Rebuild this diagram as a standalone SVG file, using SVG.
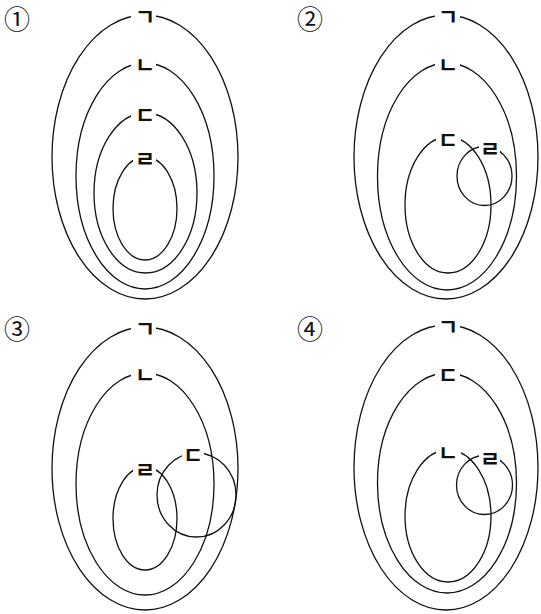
<svg xmlns="http://www.w3.org/2000/svg" width="541" height="614" viewBox="0 0 541 614">
<style>
.e{fill:none;stroke:#111;stroke-width:1.3}
.bg{fill:#fff;stroke:none}
.l{font-family:"Noto Sans CJK KR","Noto Sans",sans-serif;font-size:22px;font-weight:bold;fill:#111;text-anchor:middle;dominant-baseline:central}
.n{font-family:"Noto Sans CJK KR","DejaVu Serif",serif;font-size:26px;fill:#111;text-anchor:middle;dominant-baseline:central}
</style>
<rect width="541" height="614" fill="#fff"/>
<g id="panel1">
<text class="n" x="17" y="17">①</text>
<g id="p1-g"><ellipse class="e" cx="145" cy="157" rx="93" ry="142"/><rect class="bg" x="131" y="8" width="25" height="14"/><text class="l" x="145" y="15">ㄱ</text></g>
<g id="p1-n"><ellipse class="e" cx="145" cy="176" rx="69" ry="113"/><rect class="bg" x="131" y="56" width="25" height="14"/><text class="l" x="145" y="63">ㄴ</text></g>
<g id="p1-d"><ellipse class="e" cx="145.5" cy="193" rx="51.5" ry="80"/><rect class="bg" x="131" y="106" width="25" height="14"/><text class="l" x="145" y="113">ㄷ</text></g>
<g id="p1-r"><ellipse class="e" cx="145" cy="208.5" rx="32" ry="51.5"/><rect class="bg" x="133" y="150" width="23" height="14"/><text class="l" x="145" y="157">ㄹ</text></g>
</g>
<g id="panel2">
<text class="n" x="310" y="17">②</text>
<g id="p2-g"><ellipse class="e" cx="446" cy="157" rx="92" ry="142"/><rect class="bg" x="435" y="8" width="25" height="14"/><text class="l" x="448" y="15">ㄱ</text></g>
<g id="p2-n"><ellipse class="e" cx="447" cy="176.5" rx="69.5" ry="113.5"/><rect class="bg" x="435" y="56" width="25" height="14"/><text class="l" x="448" y="63">ㄴ</text></g>
<g id="p2-d"><ellipse class="e" cx="448" cy="205" rx="43" ry="68"/><rect class="bg" x="436" y="130" width="25" height="14"/><text class="l" x="448" y="138">ㄷ</text></g>
<g id="p2-r"><ellipse class="e" cx="484.5" cy="176" rx="27.5" ry="29.5"/><rect class="bg" x="479" y="138" width="21" height="16"/><text class="l" x="490" y="147">ㄹ</text></g>
</g>
<g id="panel3">
<text class="n" x="17" y="327">③</text>
<g id="p3-g"><ellipse class="e" cx="145" cy="468.5" rx="93" ry="141.5"/><rect class="bg" x="131" y="320" width="25" height="14"/><text class="l" x="145" y="327">ㄱ</text></g>
<g id="p3-n"><ellipse class="e" cx="145" cy="484" rx="69" ry="111"/><rect class="bg" x="131" y="366" width="25" height="14"/><text class="l" x="145" y="373">ㄴ</text></g>
<g id="p3-r"><ellipse class="e" cx="145" cy="518.5" rx="32" ry="51.5"/><rect class="bg" x="133" y="461" width="23" height="14"/><text class="l" x="145" y="468">ㄹ</text></g>
<g id="p3-d"><ellipse class="e" cx="196.5" cy="495" rx="39.5" ry="42"/><rect class="bg" x="182" y="445" width="22" height="15"/><text class="l" x="193" y="453">ㄷ</text></g>
</g>
<g id="panel4">
<text class="n" x="310" y="327">④</text>
<g id="p4-g"><ellipse class="e" cx="446" cy="467.5" rx="92" ry="142.5"/><rect class="bg" x="435" y="318" width="25" height="14"/><text class="l" x="448" y="325">ㄱ</text></g>
<g id="p4-d"><ellipse class="e" cx="447" cy="483" rx="69.5" ry="110"/><rect class="bg" x="435" y="366" width="25" height="14"/><text class="l" x="448" y="373">ㄷ</text></g>
<g id="p4-n"><ellipse class="e" cx="448" cy="516" rx="43" ry="66"/><rect class="bg" x="436" y="443" width="25" height="14"/><text class="l" x="448" y="451">ㄴ</text></g>
<g id="p4-r"><ellipse class="e" cx="484.5" cy="485" rx="28" ry="29.5"/><rect class="bg" x="479" y="449" width="21" height="16"/><text class="l" x="490" y="457">ㄹ</text></g>
</g>
<g id="connectors"></g>
</svg>
